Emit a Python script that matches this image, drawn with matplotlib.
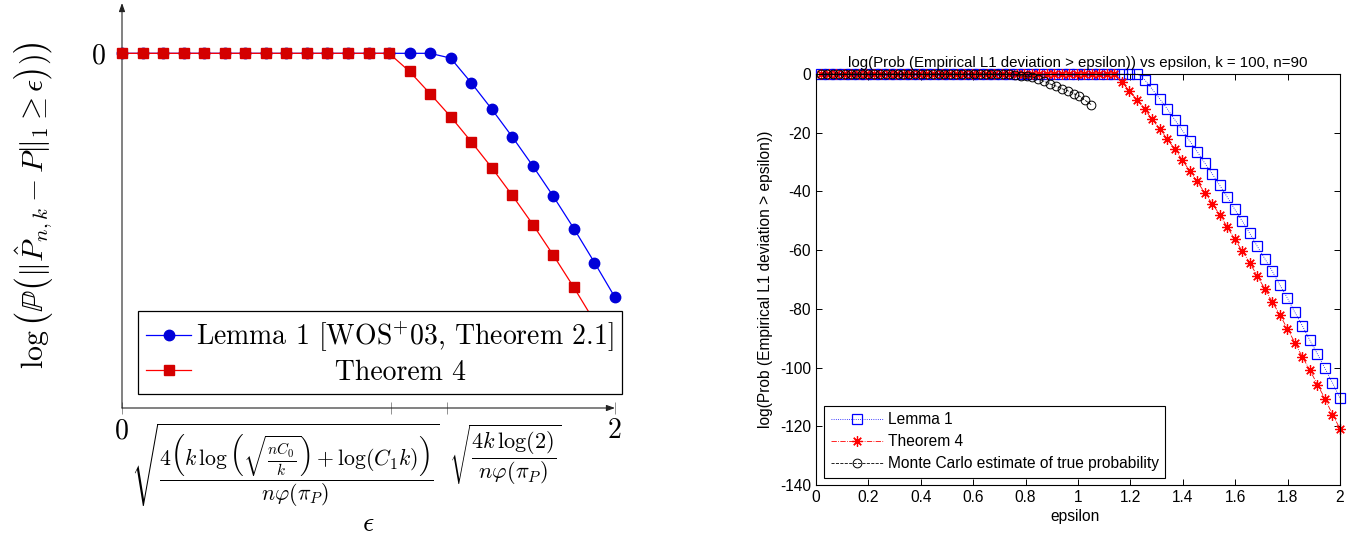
import numpy as np
import matplotlib
matplotlib.use('Agg')
import matplotlib.pyplot as plt

plt.rcParams['mathtext.fontset'] = 'cm'
plt.rcParams['axes.unicode_minus'] = False

# ---------------- data: left (schematic bounds) ----------------
eps_left = np.linspace(0, 2, 25)
lemma1_left = [0] * 16 + [-1.4, -8.6, -16.3, -24.4, -32.9, -41.8, -51.2, -61.1, -71.3]
thm4_left = [0] * 14 + [-5.3, -11.8, -18.5, -25.8, -33.4, -41.5, -50.0, -59.0, -68.4, -78.3, -88.6]
left_tick_pos = [0, 1.09, 1.32, 2]
left_tick_labels = ['0', '', '', '2']
left_legend = [r'Lemma 1 [WOS$^{+}$03, Theorem 2.1]', 'Theorem 4']
formula1 = (r'$\sqrt{\dfrac{4\left(k\,\log\left(\sqrt{\frac{nC_0}{k}}\right)+\log(C_1k)\right)}'
            r'{n\varphi(\pi_P)}}$')
formula2 = r'$\sqrt{\dfrac{4k\,\log(2)}{n\varphi(\pi_P)}}$'
left_ylabel = r'$\log\left(\mathbb{P}\left(\|\hat{P}_{n,k}-P\|_1\geq\epsilon\right))\right)$'
left_xlabel = r'$\epsilon$'

# ---------------- data: right (numerical comparison) ----------------
eps = np.linspace(0.02, 2, 70)
lemma1 = [0] * 43 + [-1.9, -5.1, -8.4, -11.8, -15.5, -19.1, -22.8, -26.4, -30.3, -34.0,
                     -37.9, -41.9, -46.1, -50.1, -54.3, -58.7, -62.9, -67.2, -71.9, -76.3,
                     -81.2, -85.8, -90.7, -95.4, -100.3, -105.2, -110.5]
thm4 = [0] * 40 + [-2.8, -5.8, -8.8, -12.0, -15.4, -18.6, -22.1, -25.5, -29.2, -33.0,
                   -36.6, -40.4, -44.2, -47.9, -52.1, -56.3, -60.3, -64.3, -68.8, -73.2,
                   -77.7, -82.0, -86.8, -91.5, -96.4, -100.9, -105.8, -110.6, -116.0, -120.8]
eps_mc = np.linspace(0.02, 1.05, 47)
mc = [0] * 33 + [-0.3, -0.6, -0.8, -1.0, -1.8, -2.5, -3.4, -4.1, -5.0, -5.7, -6.7, -7.5, -9.0, -10.4]
right_xticks = [0, 0.2, 0.4, 0.6, 0.8, 1.0, 1.2, 1.4, 1.6, 1.8, 2.0]
right_xticklabels = ['0', '0.2', '0.4', '0.6', '0.8', '1', '1.2', '1.4', '1.6', '1.8', '2']
right_yticks = [-140, -120, -100, -80, -60, -40, -20, 0]
right_yticklabels = ['-140', '-120', '-100', '-80', '-60', '-40', '-20', '0']
right_legend = ['Lemma 1', 'Theorem 4', 'Monte Carlo estimate of true probability']
right_title = 'log(Prob (Empirical L1 deviation > epsilon)) vs epsilon, k = 100, n=90'
right_ylabel = 'log(Prob (Empirical L1 deviation > epsilon))'
right_xlabel = 'epsilon'

W, H = 1363, 540
fig = plt.figure(figsize=(W / 100, H / 100), dpi=100)

# ================= LEFT PANEL =================
CM = 'cmr10'
FS_L = 20
ax1 = fig.add_axes([122 / W, 1 - 408 / H, (615 - 122) / W, (408 - 3) / H])
ybot, ytop = -103.6, 14.7
ax1.set_xlim(0, 2)
ax1.set_ylim(ybot, ytop)
for s in ax1.spines.values():
    s.set_visible(False)

ax1.plot(eps_left, lemma1_left, color='#0000ff', lw=0.9, marker='o', ms=7.5,
         mfc='#0000d8', mec='#0000d8', clip_on=False, zorder=3, label=left_legend[0])
ax1.plot(eps_left, thm4_left, color='#ff0000', lw=0.9, marker='s', ms=7,
         mfc='#d40000', mec='#d40000', clip_on=False, zorder=4, label=left_legend[1])

arrow_kw = dict(arrowstyle='-|>,head_length=0.5,head_width=0.18', lw=0.8, color='#222222',
                shrinkA=0, shrinkB=0)
ax1.annotate('', xy=(2, ybot), xytext=(0, ybot), arrowprops=arrow_kw, annotation_clip=False)
ax1.annotate('', xy=(0, ytop), xytext=(0, ybot), arrowprops=arrow_kw, annotation_clip=False)

ax1.set_xticks(left_tick_pos)
ax1.set_xticklabels(left_tick_labels, fontfamily=CM, fontsize=FS_L)
ax1.tick_params(axis='x', direction='inout', length=8, width=0.6, color='#808080', pad=3)
ax1.set_yticks([0])
ax1.set_yticklabels(['0'], fontfamily=CM, fontsize=FS_L)
ax1.tick_params(axis='y', length=0, pad=12)

ax1.text(0.661, -0.035, formula1, transform=ax1.get_xaxis_transform(), ha='center', va='top',
         fontsize=15.7)
ax1.text(1.554, -0.035, formula2, transform=ax1.get_xaxis_transform(), ha='center', va='top',
         fontsize=16)

ax1.set_xlabel(left_xlabel, fontsize=FS_L)
ax1.xaxis.set_label_coords(0.5, -0.25)
ax1.set_ylabel(left_ylabel, fontsize=21.5)
ax1.yaxis.set_label_coords(-0.135, 0.5)

leg1 = ax1.legend(loc='lower left', bbox_to_anchor=(0.0325, 0.0346), prop={'family': CM, 'size': FS_L},
                  frameon=True, fancybox=False, framealpha=1, edgecolor='black',
                  handlelength=1.6, handletextpad=0.2, borderpad=0.3, labelspacing=0.2,
                  borderaxespad=0, numpoints=1)
leg1.get_frame().set_linewidth(0.9)
leg1.set_zorder(10)

# center the second legend entry by padding with spaces
fig.canvas.draw()
r = fig.canvas.get_renderer()
t0, t1 = leg1.get_texts()
w0 = t0.get_window_extent(r).width
w1 = t1.get_window_extent(r).width
t1.set_text(' ' + left_legend[1])
ws = t1.get_window_extent(r).width - w1
n = max(0, int(round((w0 - w1) / 2 / ws))) if ws > 0 else 0
t1.set_text(' ' * n + left_legend[1] + ' ' * n)

# ================= RIGHT PANEL =================
SANS = 'Liberation Sans'
FS_R = 11.2
ax2 = fig.add_axes([816 / W, 1 - 485 / H, (1340 - 816) / W, (485 - 74) / H])
ax2.plot(eps, lemma1, color=(0, 0, 1), ls=':', lw=0.6, marker='s', ms=6.6, mfc='none',
         mec=(0, 0, 1), mew=0.9, label=right_legend[0], clip_on=False)
ax2.plot(eps, thm4, color=(1, 0, 0), ls='-.', lw=0.6, marker=(8, 2, 0), ms=7.5, mec=(1, 0, 0),
         mew=0.9, label=right_legend[1], clip_on=False)
ax2.plot(eps_mc, mc, color='black', ls='--', lw=0.6, marker='o', ms=6.3, mfc='none', mec='black',
         mew=0.7, label=right_legend[2], clip_on=False)
ax2.set_xlim(0, 2)
ax2.set_ylim(-140, 0)
ax2.set_xticks(right_xticks)
ax2.set_xticklabels(right_xticklabels, fontfamily=SANS, fontsize=FS_R)
ax2.set_yticks(right_yticks)
ax2.set_yticklabels(right_yticklabels, fontfamily=SANS, fontsize=FS_R)
ax2.tick_params(direction='in', top=True, right=True, length=4, width=0.7, pad=3.5)
for s in ax2.spines.values():
    s.set_linewidth(0.8)
ax2.set_title(right_title, fontfamily=SANS, fontsize=10.8, pad=5)
ax2.set_xlabel(right_xlabel, fontfamily=SANS, fontsize=FS_R)
ax2.xaxis.set_label_coords(0.495, -0.058)
ax2.set_ylabel(right_ylabel, fontfamily=SANS, fontsize=FS_R)
ax2.yaxis.set_label_coords(-0.083, 0.5)
leg2 = ax2.legend(loc='lower left', bbox_to_anchor=(0.0162, 0.0178), prop={'family': SANS, 'size': FS_R},
                  frameon=True, fancybox=False, framealpha=1, edgecolor='black',
                  handlelength=3.4, handletextpad=0.3, borderpad=0.4, labelspacing=0.45,
                  borderaxespad=0, numpoints=1)
leg2.get_frame().set_linewidth(0.8)

fig.savefig('out.png', dpi=100)
